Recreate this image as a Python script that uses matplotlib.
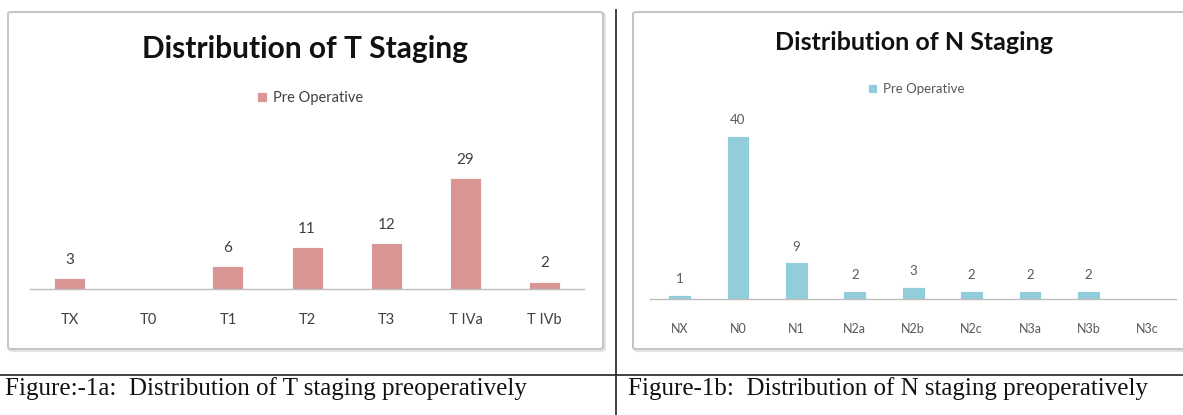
import matplotlib
matplotlib.use("Agg")
import matplotlib.pyplot as plt
from matplotlib.patches import FancyBboxPatch
from matplotlib.lines import Line2D

# ---- data ----
t_categories = ["TX", "T0", "T1", "T2", "T3", "T IVa", "T IVb"]
t_values = [3, 0, 6, 11, 12, 29, 2]
n_categories = ["NX", "N0", "N1", "N2a", "N2b", "N2c", "N3a", "N3b", "N3c"]
n_values = [1, 40, 9, 2, 3, 2, 2, 2, 0]
series_name = "Pre Operative"
t_title = "Distribution of T Staging"
n_title = "Distribution of N Staging"
t_caption = "Figure:-1a:  Distribution of T staging preoperatively"
n_caption = "Figure-1b:  Distribution of N staging preoperatively"

T_COLOR = "#D99594"
N_COLOR = "#92CDDC"
SANS = ["Lato", "DejaVu Sans"]
SERIF = ["Liberation Serif", "DejaVu Serif"]

W, H = 1183, 415
fig = plt.figure(figsize=(W / 100, H / 100), dpi=100)
fig.patch.set_facecolor("white")


def fx(x):
    return x / W


def fy(y):
    return 1 - y / H


def add_box(x0, y0, x1, y1):
    # soft shadow plus light grey frame around each chart
    shadow = FancyBboxPatch((fx(x0 + 1.5), fy(y1 + 1.5)), fx(x1 - x0), (y1 - y0) / H,
                            boxstyle="round,pad=0,rounding_size=0.004",
                            transform=fig.transFigure, facecolor="none",
                            edgecolor="#e2e2e2", lw=2.2, zorder=-2)
    frame = FancyBboxPatch((fx(x0), fy(y1)), fx(x1 - x0), (y1 - y0) / H,
                           boxstyle="round,pad=0,rounding_size=0.004",
                           transform=fig.transFigure, facecolor="white",
                           edgecolor="#c4c4c4", lw=1.4, zorder=-1)
    fig.patches.extend([shadow, frame])


def bar_panel(cats, vals, color, left, right, base, px_per_unit, ymax,
              tick_fs, label_fs, label_gap, tick_pad, text_color):
    ax = fig.add_axes([fx(left), fy(base), fx(right - left), ymax * px_per_unit / H])
    ax.set_facecolor("none")
    xs = list(range(len(cats)))
    bars = ax.bar(xs, vals, width=0.39, color=color, edgecolor="white",
                  linewidth=0.6, zorder=2, label=series_name)
    ax.set_xlim(-0.5, len(cats) - 0.5)
    ax.set_ylim(0, ymax)
    for s in ("top", "left", "right"):
        ax.spines[s].set_visible(False)
    ax.spines["bottom"].set_color("#bdbdbd")
    ax.spines["bottom"].set_linewidth(1.0)
    ax.set_yticks([])
    ax.set_xticks(xs)
    ax.set_xticklabels(cats, fontsize=tick_fs, family=SANS, color=text_color)
    ax.tick_params(axis="x", length=0, pad=tick_pad)
    for b, v in zip(bars, vals):
        if v > 0:
            ax.annotate(str(v), (b.get_x() + b.get_width() / 2, v),
                        xytext=(0, label_gap), textcoords="offset points",
                        ha="center", va="bottom", fontsize=label_fs,
                        family=SANS, color=text_color, annotation_clip=False)
    return ax, bars


# frames
add_box(8, 12, 603, 349)
add_box(633, 12, 1192, 349)

# T staging chart
ax_t, bars_t = bar_panel(t_categories, t_values, T_COLOR, 29.9, 584.3, 289.3, 3.85, 35,
                         10.5, 11, 8, 17, "#404040")
fig.text(fx(305), fy(49), t_title, ha="center", va="center", fontsize=21.5,
         fontweight="bold", family=SANS, color="#111111")
leg_t = ax_t.legend(handles=[bars_t], labels=[series_name], loc="center",
                    bbox_to_anchor=(fx(310), fy(98)), bbox_transform=fig.transFigure,
                    frameon=False, prop={"family": SANS, "size": 10.5},
                    handlelength=0.7, handleheight=0.7, handletextpad=0.4)
for txt in leg_t.get_texts():
    txt.set_color("#404040")

# N staging chart
ax_n, bars_n = bar_panel(n_categories, n_values, N_COLOR, 650.4, 1176, 299, 4.075, 42,
                         9, 9.5, 7, 17, "#595959")
fig.text(fx(914), fy(43), n_title, ha="center", va="center", fontsize=18,
         fontweight="bold", family=SANS, color="#111111")
leg_n = ax_n.legend(handles=[bars_n], labels=[series_name], loc="center",
                    bbox_to_anchor=(fx(916), fy(89)), bbox_transform=fig.transFigure,
                    frameon=False, prop={"family": SANS, "size": 9.5},
                    handlelength=0.7, handleheight=0.7, handletextpad=0.4)
for txt in leg_n.get_texts():
    txt.set_color("#595959")

# table rules separating the two figures and their captions
fig.lines.append(Line2D([fx(615.7), fx(615.7)], [fy(10), fy(415)], transform=fig.transFigure,
                        color="#333333", lw=1.3))
fig.lines.append(Line2D([0, 1], [fy(375), fy(375)], transform=fig.transFigure,
                        color="#333333", lw=1.3))

fig.text(fx(5), fy(389), t_caption, ha="left", va="center", fontsize=18,
         family=SERIF, color="#111111")
fig.text(fx(628), fy(389), n_caption, ha="left", va="center", fontsize=18,
         family=SERIF, color="#111111")

fig.savefig("out.png", dpi=100, facecolor="white")
